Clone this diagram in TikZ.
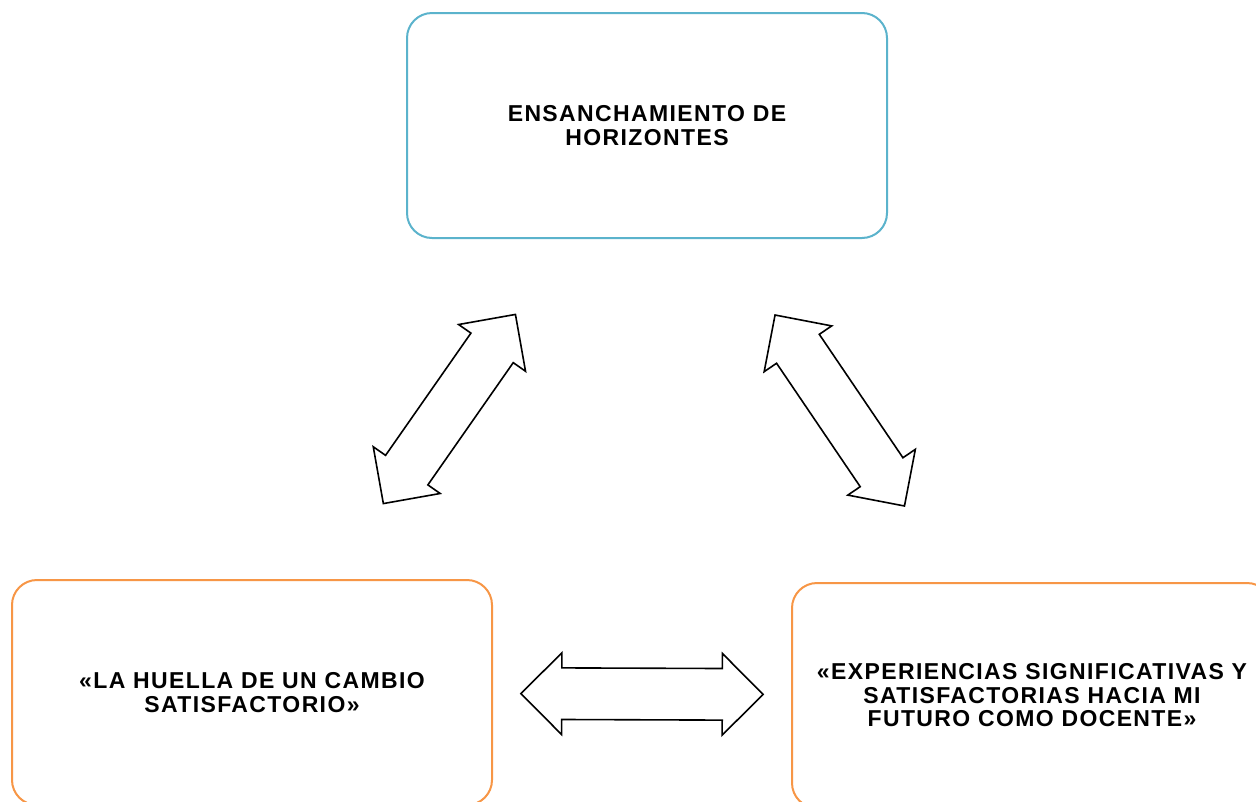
\documentclass[tikz,border=0pt]{standalone}
\usepackage{fontspec}
\newfontfamily\cajafont[LetterSpace=6]{Liberation Sans}
\usetikzlibrary{shapes.arrows}
\definecolor{azulcaja}{HTML}{5BB3CC}
\definecolor{naranjacaja}{HTML}{F79646}
\tikzset{
  caja/.style={draw, rounded corners=25pt, line width=2pt, fill=white,
    minimum width=480pt, minimum height=225pt, align=center,
    font=\cajafont\bfseries\fontsize{23}{23.5}\selectfont},
  flechadoble/.style={double arrow, draw=black, line width=1.6pt, fill=white,
    inner xsep=#1, inner ysep=25pt, double arrow head extend=15pt,
    double arrow tip angle=90, minimum width=0pt, minimum height=0pt},
}
\begin{document}
\begin{tikzpicture}[x=1pt,y=1pt]
  \useasboundingbox (0,0) rectangle (1256,-801);
  \clip (0,0) rectangle (1256,-801);
  \node[caja, draw=azulcaja] (horizontes) at (647,-125.5)
    {ENSANCHAMIENTO DE\\HORIZONTES};
  \node[caja, draw=naranjacaja] (huella) at (252,-692.5)
    {«LA HUELLA DE UN CAMBIO\\SATISFACTORIO»};
  \node[caja, draw=naranjacaja] (experiencias) at (1032,-695.5)
    {«EXPERIENCIAS SIGNIFICATIVAS Y\\SATISFACTORIAS HACIA MI\\FUTURO COMO DOCENTE»};
  \path (horizontes) -- (huella)
    node[flechadoble=88.75pt, midway, sloped] (f1) {};
  \path (horizontes) -- (experiencias)
    node[flechadoble=88.75pt, midway, sloped] (f2) {};
  \path (huella) -- (experiencias)
    node[flechadoble=94.5pt, midway, sloped] (f3) {};
\end{tikzpicture}
\end{document}
